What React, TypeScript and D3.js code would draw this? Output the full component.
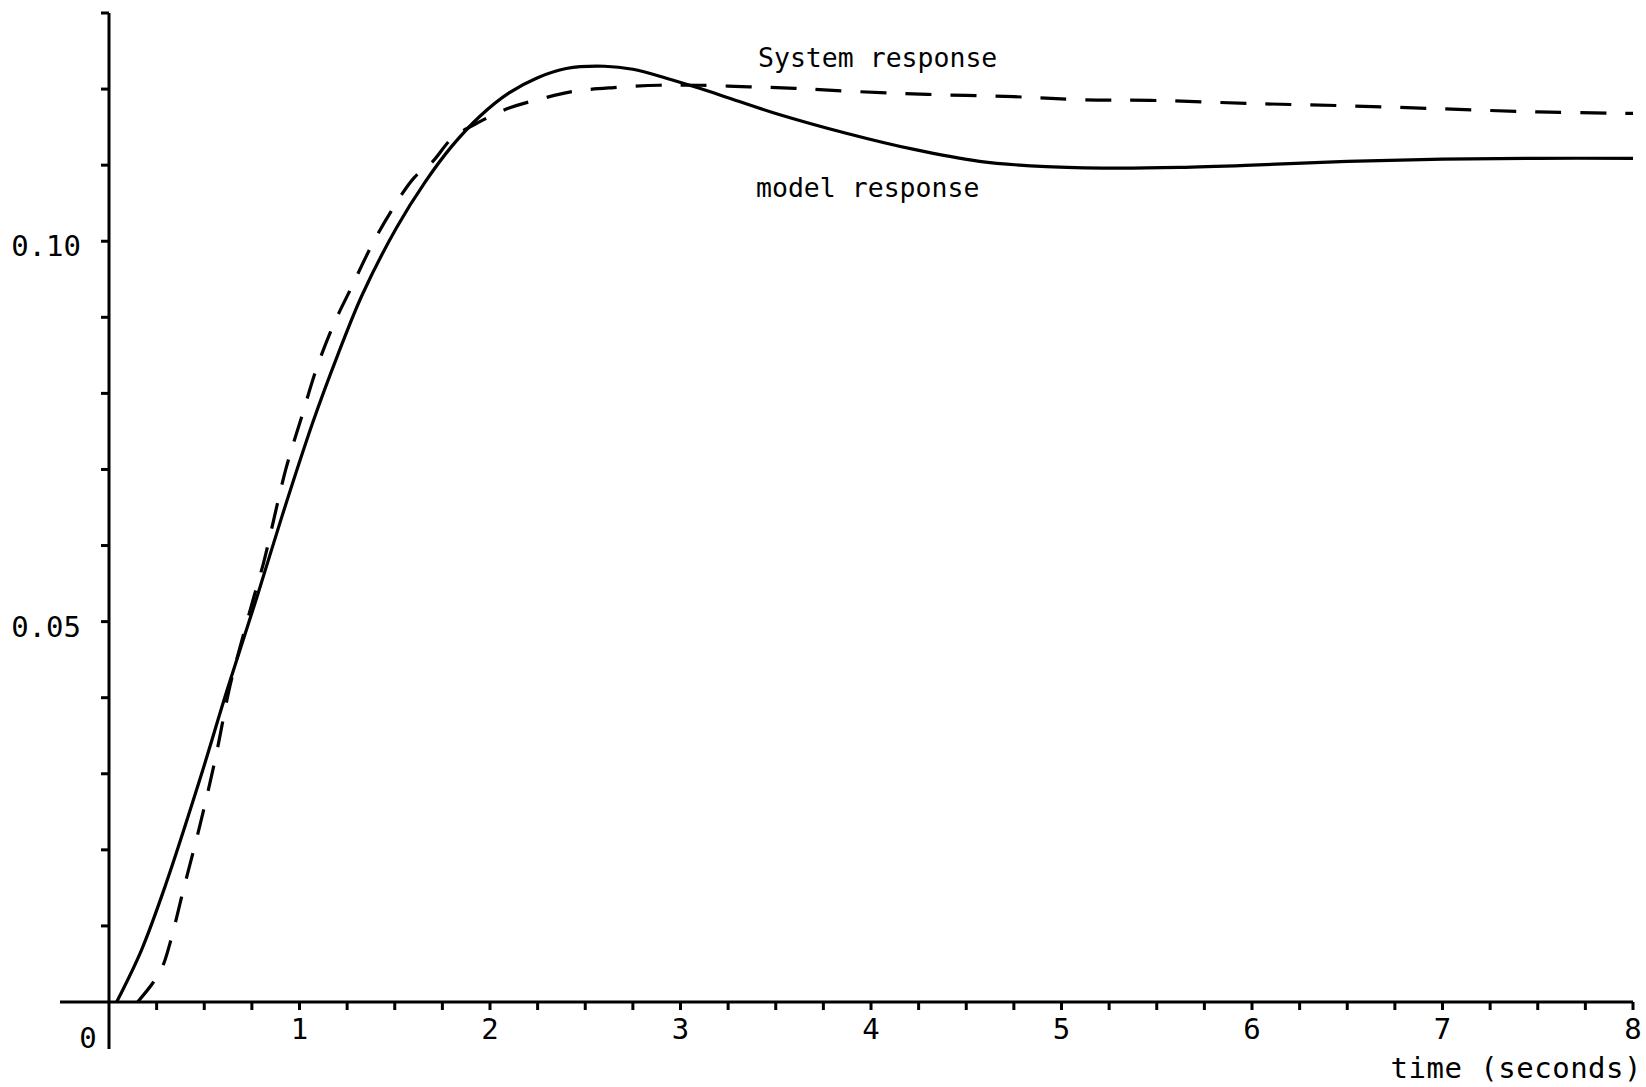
import React, { useEffect, useRef } from "react";
import * as d3 from "d3";

// model response (solid)
const modelT = [0.04, 0.17, 0.3, 0.48, 0.62, 0.78, 0.91, 1.07, 1.2, 1.33, 1.51, 1.66, 1.8, 1.95, 2.1, 2.25, 2.4, 2.6, 2.75, 2.93, 3.1, 3.28, 3.5, 3.87, 4.22, 4.57, 4.92, 5.27, 5.62, 6.0, 6.5, 7.0, 7.5, 8.0];
const modelY = [0, 0.0068, 0.0156, 0.0295, 0.041, 0.0535, 0.064, 0.0762, 0.085, 0.093, 0.1018, 0.1078, 0.1125, 0.1165, 0.1195, 0.1215, 0.1227, 0.123, 0.1226, 0.1214, 0.1201, 0.1186, 0.1168, 0.1142, 0.1121, 0.1105, 0.1098, 0.1096, 0.1097, 0.11, 0.1105, 0.1108, 0.1109, 0.1109];

// system response (dashed)
const systemT = [0.15, 0.23, 0.28, 0.32, 0.39, 0.48, 0.56, 0.63, 0.67, 0.76, 0.81, 0.93, 1.01, 1.09, 1.18, 1.27, 1.38, 1.48, 1.6, 1.7, 1.8, 1.93, 2.1, 2.28, 2.44, 2.65, 2.89, 3.1, 3.36, 3.6, 3.9, 4.3, 4.75, 5.1, 5.5, 6.0, 6.5, 7.0, 7.5, 8.0];
const systemY = [0, 0.0025, 0.0046, 0.0077, 0.0147, 0.0235, 0.0322, 0.041, 0.045, 0.0532, 0.0576, 0.0702, 0.0768, 0.0833, 0.0891, 0.0938, 0.0995, 0.1039, 0.1083, 0.1105, 0.1135, 0.1155, 0.1175, 0.1188, 0.1197, 0.1202, 0.1205, 0.1205, 0.1203, 0.1201, 0.1197, 0.1193, 0.119, 0.1186, 0.1185, 0.1181, 0.1178, 0.1174, 0.117, 0.1168];

const xLabels = [1, 2, 3, 4, 5, 6, 7, 8];
const yLabels = [0.05, 0.1];

const W = 1646;
const H = 1087;
const FONT = "'DejaVu Sans Mono', monospace";

const App = () => {
  const ref = useRef<SVGSVGElement>(null);

  useEffect(() => {
    const svg = d3.select(ref.current);
    svg.selectAll("*").remove();

    const x = d3.scaleLinear().domain([0, 8]).range([109, 1633]);
    const y = d3.scaleLinear().domain([0, 0.13]).range([1002, 13]);

    // axes, both run a little past the origin
    svg.append("line")
      .attr("x1", 60).attr("x2", x(8))
      .attr("y1", y(0)).attr("y2", y(0))
      .attr("stroke", "#000").attr("stroke-width", 3);
    svg.append("line")
      .attr("x1", x(0)).attr("x2", x(0))
      .attr("y1", y(0.13)).attr("y2", 1049)
      .attr("stroke", "#000").attr("stroke-width", 3);

    // x ticks every 0.25
    const xt = d3.range(1, 33).map((i) => i * 0.25);
    svg.selectAll(".xt").data(xt).enter().append("line")
      .attr("x1", (d) => x(d)).attr("x2", (d) => x(d))
      .attr("y1", y(0)).attr("y2", y(0) + 8)
      .attr("stroke", "#000").attr("stroke-width", 3);

    // y ticks every 0.01
    const yt = d3.range(1, 14).map((i) => i * 0.01);
    svg.selectAll(".yt").data(yt).enter().append("line")
      .attr("x1", x(0) - 8).attr("x2", x(0))
      .attr("y1", (d) => y(d)).attr("y2", (d) => y(d))
      .attr("stroke", "#000").attr("stroke-width", 3);

    // tick labels
    svg.selectAll(".xl").data(xLabels).enter().append("text")
      .attr("x", (d) => x(d)).attr("y", 1039)
      .attr("text-anchor", "middle")
      .attr("font-family", FONT).attr("font-size", 29)
      .text((d) => String(d));
    svg.append("text")
      .attr("x", 88).attr("y", 1048)
      .attr("text-anchor", "middle")
      .attr("font-family", FONT).attr("font-size", 29)
      .text("0");
    svg.selectAll(".yl").data(yLabels).enter().append("text")
      .attr("x", 81).attr("y", (d) => y(d) + 15)
      .attr("text-anchor", "end")
      .attr("font-family", FONT).attr("font-size", 29)
      .text((d) => d3.format(".2f")(d));
    svg.append("text")
      .attr("x", 1642).attr("y", 1078)
      .attr("text-anchor", "end")
      .attr("font-family", FONT).attr("font-size", 29)
      .attr("letter-spacing", 0.5)
      .text("time (seconds)");

    // curves
    const line = d3.line<[number, number]>()
      .x((d) => x(d[0]))
      .y((d) => y(d[1]))
      .curve(d3.curveCatmullRom.alpha(0.5));

    svg.append("path")
      .attr("d", line(modelT.map((t, i) => [t, modelY[i]])))
      .attr("fill", "none").attr("stroke", "#000").attr("stroke-width", 3.2);
    svg.append("path")
      .attr("d", line(systemT.map((t, i) => [t, systemY[i]])))
      .attr("fill", "none").attr("stroke", "#000").attr("stroke-width", 3.2)
      .attr("stroke-dasharray", "26 19");

    // annotations
    svg.append("text")
      .attr("x", 758).attr("y", 67)
      .attr("font-family", FONT).attr("font-size", 26.5)
      .text("System response");
    svg.append("text")
      .attr("x", 756).attr("y", 197)
      .attr("font-family", FONT).attr("font-size", 26.5)
      .text("model response");
  }, []);

  return (
    <svg
      ref={ref}
      width={W}
      height={H}
      style={{ position: "absolute", left: 0, top: 0, background: "#fff" }}
    />
  );
};

export default App;
